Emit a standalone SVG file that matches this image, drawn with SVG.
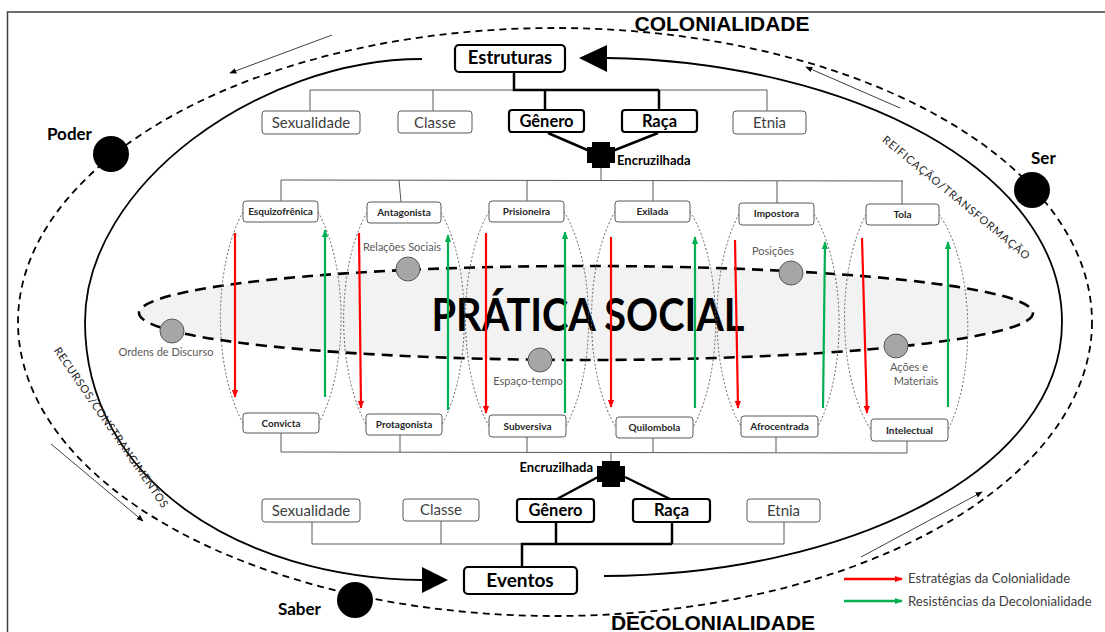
<svg xmlns="http://www.w3.org/2000/svg" width="1105" height="632" viewBox="0 0 1105 632">
<style>
.frame{fill:none;stroke:#3f3f3f;stroke-width:1.5}
.outer{fill:none;stroke:#000;stroke-width:1.8;stroke-dasharray:7 5}
.inner{fill:none;stroke:#000;stroke-width:1.8}
.pratica{fill:#f2f2f2;stroke:#000;stroke-width:2.6;stroke-dasharray:11 7}
.thin{fill:none;stroke:#595959;stroke-width:1}
.thick{fill:none;stroke:#000;stroke-width:2.5}
.dot{fill:none;stroke:#555;stroke-width:0.9;stroke-dasharray:2 2}
.red{stroke:#ff0000;stroke-width:2.2;fill:none;marker-end:url(#mr)}
.green{stroke:#00b050;stroke-width:2.2;fill:none;marker-end:url(#mg)}
.flow{stroke:#404040;stroke-width:1;fill:none;marker-end:url(#mk)}
.box{fill:#fff;stroke:#595959;stroke-width:1}
.bbox{fill:#fff;stroke:#000;stroke-width:2.2}
.rbox{fill:#fff;stroke:#595959;stroke-width:1}
.gc{fill:#a6a6a6;stroke:#595959;stroke-width:1}
.t{font-family:Lato,"Liberation Sans",sans-serif;text-anchor:middle}
.lbl{font-size:15px;fill:#404040}
.blbl{font-size:16.5px;font-weight:bold;fill:#000}
.role{font-size:10px;font-weight:bold;fill:#262626}
.gray{font-size:11px;fill:#595959}
.enc{font-family:Lato,"Liberation Sans",sans-serif;font-size:13px;font-weight:bold;fill:#000}
.big{font-family:"Liberation Sans",Arial,sans-serif;font-weight:bold;font-size:21px;fill:#000;text-anchor:middle}
.pole{font-family:Lato,"Liberation Sans",sans-serif;font-weight:bold;font-size:17px;fill:#000}
.side{font-family:Lato,"Liberation Sans",sans-serif;font-size:11px;fill:#262626;letter-spacing:0.6px}
.leg{font-family:Lato,"Liberation Sans",sans-serif;font-size:13.2px;fill:#404040}
</style>
<defs>
<marker id="mr" viewBox="0 0 10 10" refX="9" refY="5" markerWidth="8" markerHeight="8" markerUnits="userSpaceOnUse" orient="auto"><path d="M0,1 L10,5 L0,9 z" fill="#ff0000"/></marker>
<marker id="mg" viewBox="0 0 10 10" refX="9" refY="5" markerWidth="8" markerHeight="8" markerUnits="userSpaceOnUse" orient="auto"><path d="M0,1 L10,5 L0,9 z" fill="#00b050"/></marker>
<marker id="mk" viewBox="0 0 10 10" refX="9" refY="5" markerWidth="7" markerHeight="7" markerUnits="userSpaceOnUse" orient="auto"><path d="M0,1 L10,5 L0,9 z" fill="#000"/></marker>
<path id="cross" d="M-9,-13 H9 V-8 H14 V8 H9 V13 H-9 V8 H-14 V-8 H-9 Z" fill="#000"/>
</defs>

<rect x="0" y="0" width="1105" height="632" fill="#fff"/>
<rect class="frame" x="7.5" y="12" width="1110" height="640"/>

<g id="cycle">
<ellipse class="outer" cx="555" cy="322" rx="537" ry="294"/>
<path class="inner" d="M 422 59 C 260 59, 85 185, 85 322 C 85 480, 240 578, 422 580"/>
<path class="inner" d="M 607 58 C 850 62, 1062 170, 1062 322 C 1062 470, 850 575, 604 576"/>
<polygon points="579,58 607,45 607,72" fill="#000"/>
<polygon points="448,580 422,567 422,593" fill="#000"/>
<line class="flow" x1="332" y1="35" x2="230" y2="73"/>
<line class="flow" x1="900" y1="108" x2="806" y2="67"/>
<line class="flow" x1="51" y1="444" x2="143" y2="521"/>
<line class="flow" x1="861" y1="557" x2="982" y2="492"/>
<text class="side" transform="translate(53.5,350.5) rotate(55.5)">RECURSOS/CONSTRANGIMENTOS</text>
<text class="side" transform="translate(881.5,141) rotate(39.5)" style="letter-spacing:0.9px">REIFICAÇÃO/TRANSFORMAÇÃO</text>
</g>

<g id="titles">
<text class="big" x="722" y="31">COLONIALIDADE</text>
<text class="big" x="713" y="629.5">DECOLONIALIDADE</text>
</g>

<g id="poder"><circle cx="111" cy="154" r="18" fill="#000"/><text class="pole" x="47" y="140">Poder</text></g>
<g id="ser"><circle cx="1032" cy="190" r="18" fill="#000"/><text class="pole" x="1031" y="164">Ser</text></g>
<g id="saber"><circle cx="355" cy="600" r="18" fill="#000"/><text class="pole" x="278" y="615">Saber</text></g>

<g id="pratica-social">
<ellipse class="pratica" cx="586" cy="313" rx="447" ry="47"/>
<text x="588" y="331" font-family="Lato,'Liberation Sans',sans-serif" font-weight="bold" font-size="46" fill="#000" text-anchor="middle" textLength="313" lengthAdjust="spacingAndGlyphs">PRÁTICA SOCIAL</text>
</g>

<g id="connectors">
<line class="thin" x1="310" y1="90" x2="767" y2="90"/>
<line class="thin" x1="310" y1="90" x2="310" y2="111"/>
<line class="thin" x1="433" y1="90" x2="433" y2="111"/>
<line class="thin" x1="767" y1="90" x2="767" y2="111"/>
<polyline class="thick" points="514,72 514,90 659,90"/>
<line class="thick" x1="545" y1="90" x2="545" y2="111"/>
<line class="thick" x1="659" y1="90" x2="659" y2="111"/>
<line class="thick" x1="548" y1="133" x2="592" y2="152"/>
<line class="thick" x1="658" y1="133" x2="610" y2="152"/>
<line class="thin" x1="601" y1="166" x2="601" y2="180"/>
<line class="thin" x1="281" y1="180" x2="903" y2="181"/>
<line class="thin" x1="281" y1="180" x2="281" y2="201"/>
<line class="thin" x1="399" y1="180" x2="401" y2="202"/>
<line class="thin" x1="527" y1="180" x2="527" y2="201"/>
<line class="thin" x1="653" y1="180" x2="653" y2="201"/>
<line class="thin" x1="777" y1="181" x2="777" y2="203"/>
<line class="thin" x1="902" y1="181" x2="902" y2="204"/>
<line class="thin" x1="281" y1="433" x2="281" y2="452"/>
<line class="thin" x1="400" y1="435" x2="400" y2="452"/>
<line class="thin" x1="527" y1="437" x2="527" y2="452"/>
<line class="thin" x1="653" y1="438" x2="653" y2="452"/>
<line class="thin" x1="776" y1="437" x2="776" y2="452"/>
<line class="thin" x1="907" y1="441" x2="907" y2="453"/>
<line class="thin" x1="281" y1="452" x2="907" y2="453"/>
<line class="thin" x1="611" y1="452" x2="611" y2="462"/>
<line class="thick" x1="598" y1="477" x2="557" y2="499"/>
<line class="thick" x1="625" y1="477" x2="670" y2="499"/>
<line class="thin" x1="312" y1="544" x2="784" y2="544"/>
<line class="thin" x1="312" y1="522" x2="312" y2="544"/>
<line class="thin" x1="441" y1="521" x2="441" y2="544"/>
<line class="thin" x1="784" y1="522" x2="784" y2="544"/>
<line class="thick" x1="556" y1="522" x2="556" y2="544"/>
<line class="thick" x1="672" y1="522" x2="672" y2="544"/>
<polyline class="thick" points="672,544 522,544 522,567"/>
<path class="dot" d="M243 212 A60 135 0 0 0 243 423 M318 212 A60 135 0 0 1 319 423"/>
<path class="dot" d="M367 212.5 A60 135 0 0 0 366 424.5 M441 212.5 A60 135 0 0 1 442 424.5"/>
<path class="dot" d="M489 211.5 A60 135 0 0 0 489 426 M564 211.5 A60 135 0 0 1 566 426"/>
<path class="dot" d="M615 211.5 A60 135 0 0 0 616 427.5 M690 211.5 A60 135 0 0 1 693 427.5"/>
<path class="dot" d="M739 214 A60 135 0 0 0 741 426.5 M814 214 A60 135 0 0 1 818 426.5"/>
<path class="dot" d="M866 214.5 A60 135 0 0 0 871 430 M939 214.5 A60 135 0 0 1 948 430"/>
<line class="red" x1="235" y1="233" x2="235" y2="397"/>
<line class="green" x1="325" y1="397" x2="325" y2="230"/>
<line class="red" x1="359" y1="233" x2="361" y2="408"/>
<line class="green" x1="448" y1="410" x2="448" y2="235"/>
<line class="red" x1="486" y1="233" x2="486" y2="413"/>
<line class="green" x1="565" y1="413" x2="565" y2="232"/>
<line class="red" x1="611" y1="237" x2="611" y2="407"/>
<line class="green" x1="695" y1="408" x2="695" y2="237"/>
<line class="red" x1="735" y1="240" x2="738" y2="408"/>
<line class="green" x1="823" y1="408" x2="825" y2="242"/>
<line class="red" x1="862" y1="238" x2="867" y2="413"/>
<line class="green" x1="948" y1="407" x2="948" y2="242"/>
</g>

<g id="estruturas"><rect class="bbox" x="455" y="45" width="110" height="27" rx="4"/><text class="t" x="510" y="64" font-size="18.5" font-weight="bold">Estruturas</text></g>
<g id="eventos"><rect class="bbox" x="464" y="567" width="113" height="27" rx="4"/><text class="t" x="520" y="587" font-size="19" font-weight="bold">Eventos</text></g>

<g id="top-sexualidade"><rect class="box" x="262" y="111" width="98" height="23" rx="3"/><text class="t lbl" x="311" y="128">Sexualidade</text></g>
<g id="top-classe"><rect class="box" x="398" y="111" width="74" height="22" rx="3"/><text class="t lbl" x="435" y="128">Classe</text></g>
<g id="top-genero"><rect class="bbox" x="509" y="110" width="75" height="22" rx="3"/><text class="t blbl" x="546.5" y="127">Gênero</text></g>
<g id="top-raca"><rect class="bbox" x="622" y="110" width="75" height="22" rx="3"/><text class="t blbl" x="659.5" y="127">Raça</text></g>
<g id="top-etnia"><rect class="box" x="733" y="111" width="73" height="23" rx="3"/><text class="t lbl" x="769.5" y="128">Etnia</text></g>
<g id="top-encruzilhada"><use href="#cross" x="601" y="155"/><text class="enc" x="617" y="165">Encruzilhada</text></g>

<g id="bot-sexualidade"><rect class="box" x="262" y="499" width="98" height="23" rx="3"/><text class="t lbl" x="311" y="516">Sexualidade</text></g>
<g id="bot-classe"><rect class="box" x="403" y="499" width="76" height="22" rx="3"/><text class="t lbl" x="441" y="515">Classe</text></g>
<g id="bot-genero"><rect class="bbox" x="517" y="499" width="77" height="23" rx="3"/><text class="t blbl" x="555.5" y="516">Gênero</text></g>
<g id="bot-raca"><rect class="bbox" x="633" y="499" width="77" height="23" rx="3"/><text class="t blbl" x="671.5" y="516">Raça</text></g>
<g id="bot-etnia"><rect class="box" x="747" y="499" width="73" height="23" rx="3"/><text class="t lbl" x="783.5" y="516">Etnia</text></g>
<g id="bot-encruzilhada"><use href="#cross" x="611" y="474"/><text class="enc" x="593" y="472" text-anchor="end">Encruzilhada</text></g>

<g id="esquizofrenica"><rect class="rbox" x="243" y="201" width="75" height="21" rx="3"/><text class="t role" x="280.5" y="215">Esquizofrênica</text></g>
<g id="antagonista"><rect class="rbox" x="367" y="202" width="74" height="21" rx="3"/><text class="t role" x="404" y="216">Antagonista</text></g>
<g id="prisioneira"><rect class="rbox" x="489" y="201" width="75" height="21" rx="3"/><text class="t role" x="526.5" y="215">Prisioneira</text></g>
<g id="exilada"><rect class="rbox" x="615" y="201" width="75" height="21" rx="3"/><text class="t role" x="652.5" y="215">Exilada</text></g>
<g id="impostora"><rect class="rbox" x="739" y="203" width="75" height="22" rx="3"/><text class="t role" x="776.5" y="217">Impostora</text></g>
<g id="tola"><rect class="rbox" x="866" y="204" width="73" height="21" rx="3"/><text class="t role" x="902.5" y="218">Tola</text></g>

<g id="convicta"><rect class="rbox" x="243" y="413" width="76" height="20" rx="3"/><text class="t role" x="281" y="426.5">Convicta</text></g>
<g id="protagonista"><rect class="rbox" x="366" y="414" width="76" height="21" rx="3"/><text class="t role" x="404" y="428">Protagonista</text></g>
<g id="subversiva"><rect class="rbox" x="489" y="415" width="77" height="22" rx="3"/><text class="t role" x="527.5" y="429.5">Subversiva</text></g>
<g id="quilombola"><rect class="rbox" x="616" y="417" width="77" height="21" rx="3"/><text class="t role" x="654.5" y="431">Quilombola</text></g>
<g id="afrocentrada"><rect class="rbox" x="741" y="416" width="77" height="21" rx="3"/><text class="t role" x="779.5" y="430">Afrocentrada</text></g>
<g id="intelectual"><rect class="rbox" x="871" y="419" width="77" height="22" rx="3"/><text class="t role" x="909.5" y="434">Intelectual</text></g>

<g id="ordens"><circle class="gc" cx="172" cy="331" r="12"/><text class="t gray" x="166" y="356">Ordens de Discurso</text></g>
<g id="relacoes"><circle class="gc" cx="408" cy="269" r="12"/><text class="t gray" x="402" y="251">Relações Sociais</text></g>
<g id="espaco"><circle class="gc" cx="540" cy="360" r="12"/><text class="t gray" x="528" y="385">Espaço-tempo</text></g>
<g id="posicoes"><circle class="gc" cx="791" cy="273" r="12"/><text class="t gray" x="773" y="255">Posições</text></g>
<g id="acoes"><circle class="gc" cx="896" cy="346" r="12"/><text class="t gray" x="909" y="371">Ações e</text><text class="t gray" x="916" y="385">Materiais</text></g>

<g id="legend">
<line x1="844" y1="579" x2="902" y2="579" stroke="#ff0000" stroke-width="2.5" marker-end="url(#mr)"/>
<text class="leg" x="908" y="583">Estratégias da Colonialidade</text>
<line x1="844" y1="601" x2="902" y2="601" stroke="#00b050" stroke-width="2.5" marker-end="url(#mg)"/>
<text class="leg" x="908" y="606">Resistências da Decolonialidade</text>
</g>
</svg>
